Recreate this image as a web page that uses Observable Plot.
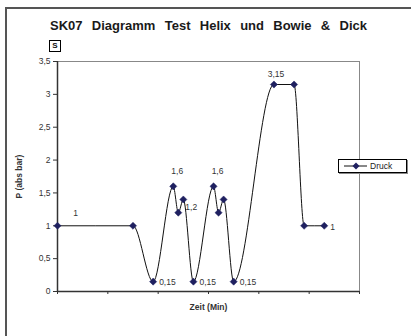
<!DOCTYPE html>
<html><head><meta charset="utf-8">
<script src="https://cdn.jsdelivr.net/npm/d3@7"></script>
<script src="https://cdn.jsdelivr.net/npm/@observablehq/plot@0.6"></script>
<style>
body{margin:0;background:#fff;font-family:"Liberation Sans",Arial,sans-serif}
#wrap{position:relative;width:411px;height:336px;overflow:hidden}
#frame{position:absolute;left:5px;top:7px;width:500px;height:400px;border-left:2px solid #555;border-top:2px solid #555}
#title{position:absolute;left:50px;top:19px;width:317px;font-weight:bold;font-size:13px;line-height:13px;text-align:justify;text-align-last:justify;color:#1a1a1a}
#sbox{position:absolute;left:49px;top:40px;width:10px;height:10px;border:1px solid #000;font-weight:bold;font-size:8px;line-height:10px;text-align:center;color:#111}
#chart{position:absolute;left:0;top:0}
#legend{position:absolute;left:338px;top:159px;width:67px;height:12px;border:1px solid #000;background:#fff;box-shadow:1px 1px 0 #888;font-size:8.5px;line-height:12px;color:#222;display:flex;align-items:center}
#legend svg{display:block}
g[aria-label="y-axis label"] text, g[aria-label="x-axis label"] text{font-weight:bold;font-size:8.5px}
</style>
</head><body>
<div id="wrap">
  <div id="frame"></div>
  <div id="chart"></div>
  <div id="title">SK07 Diagramm Test Helix und Bowie &amp; Dick</div>
  <div id="sbox">S</div>
  <div id="legend"><svg width="31" height="12"><line x1="5" x2="28" y1="6" y2="6" stroke="#111"/><polygon points="17,2.5 20.5,6 17,9.5 13.5,6" fill="#1f2060"/></svg><span>Druck</span></div>
</div>
<script>
const seriesName = "Druck";
const time = [0, 1.5, 1.9, 2.3, 2.4, 2.5, 2.7, 3.1, 3.2, 3.3, 3.5, 4.3, 4.7, 4.9, 5.3];
const pressure = [1, 1, 0.15, 1.6, 1.2, 1.4, 0.15, 1.6, 1.2, 1.4, 0.15, 3.15, 3.15, 1, 1];
const labels = ["1", "", "0,15", "1,6", "1,2", "", "0,15", "1,6", "", "", "0,15", "3,15", "", "", "1"];
const labelPlacement = ["upRight", "", "right", "above", "rightUp", "", "right", "above", "", "", "right", "top", "", "", "right"];
const yTicks = [0, 0.5, 1, 1.5, 2, 2.5, 3, 3.5];
const yTickLabels = ["0", "0,5", "1", "1,5", "2", "2,5", "3", "3,5"];
const xTicks = [0, 1, 2, 3, 4, 5, 6];

const data = time.map((t, i) => ({t, p: pressure[i], label: labels[i], place: labelPlacement[i]}));

const placements = {
  right:   {dx: 6,  dy: 1,   textAnchor: "start"},
  rightUp: {dx: 7,  dy: -5,  textAnchor: "start"},
  above:   {dx: 4,  dy: -15, textAnchor: "middle"},
  top:     {dx: 2,  dy: -10, textAnchor: "middle"},
  upRight: {dx: 18, dy: -13, textAnchor: "middle"}
};

const textMarks = Object.entries(placements).map(([key, o]) =>
  Plot.text(data.filter(d => d.label && d.place === key), {
    x: "t", y: "p", text: "label", dx: o.dx, dy: o.dy, textAnchor: o.textAnchor,
    fill: "#333", fontSize: 8.5
  })
);

const chart = Plot.plot({
  width: 411, height: 336,
  marginLeft: 57, marginRight: 52, marginTop: 61, marginBottom: 45,
  style: {fontFamily: "Liberation Sans, Arial, sans-serif", fontSize: "8.5px", color: "#333", background: "transparent", overflow: "visible"},
  x: {domain: [0, 6]},
  y: {domain: [0, 3.5]},
  marks: [
    Plot.ruleY([3.5], {stroke: "#888"}),
    Plot.ruleX([6], {stroke: "#888"}),
    Plot.axisY({ticks: yTicks, tickFormat: d => yTickLabels[yTicks.indexOf(d)], tickSize: 4, tickPadding: 3,
      label: "P (abs bar)", labelAnchor: "center", labelOffset: 42, labelArrow: "none"}),
    Plot.axisX({ticks: xTicks, tickFormat: () => "", tickSize: 3,
      label: "Zeit (Min)", labelAnchor: "center", labelOffset: 18, labelArrow: "none"}),
    Plot.ruleX([0], {stroke: "#333", strokeWidth: 1.5}),
    Plot.ruleY([0], {stroke: "#333", strokeWidth: 1.5}),
    Plot.line(data, {x: "t", y: "p", curve: "monotone-x", stroke: "#111", strokeWidth: 1}),
    Plot.dot(data, {x: "t", y: "p", symbol: "diamond2", r: 3.2, fill: "#1f2060", stroke: "#1f2060", strokeWidth: 0.5}),
    ...textMarks
  ]
});
document.getElementById("chart").appendChild(chart);
</script>
</body></html>
